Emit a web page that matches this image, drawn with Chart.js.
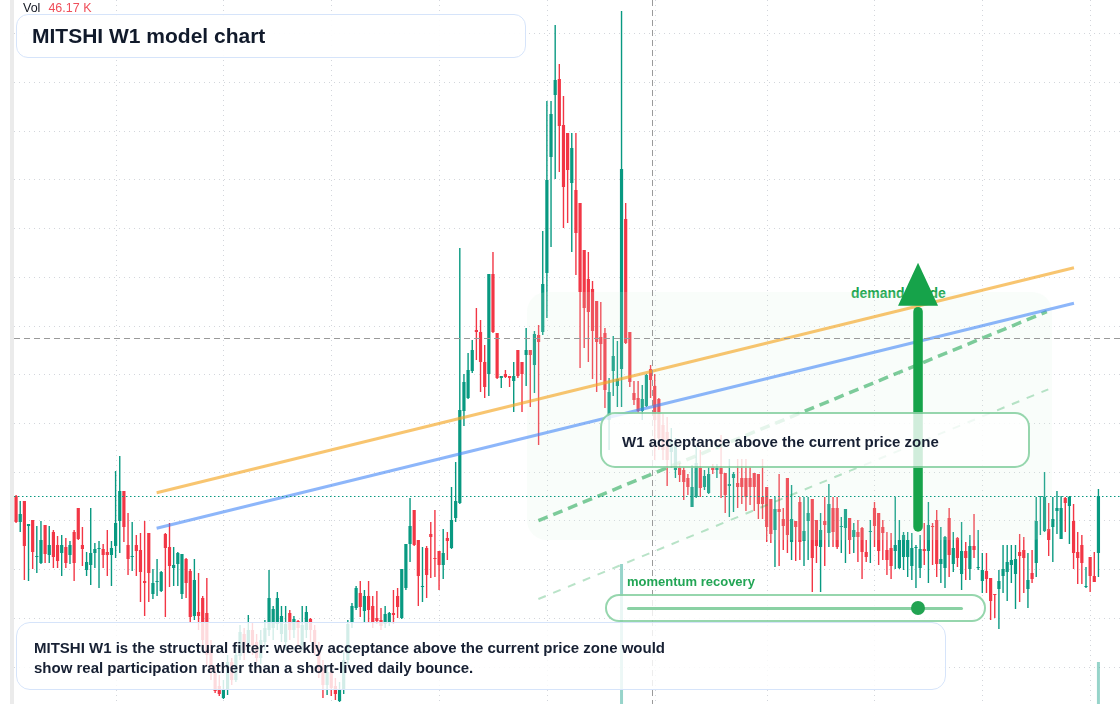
<!DOCTYPE html>
<html>
<head>
<meta charset="utf-8">
<title>MITSHI W1 model chart</title>
<script src="https://cdn.jsdelivr.net/npm/chart.js@4.4.1/dist/chart.umd.min.js"></script>
<style>
    html, body { margin: 0; padding: 0; background: #fff; }
    body { width: 1120px; height: 704px; position: relative; overflow: hidden;
           font-family: "Liberation Sans", Arial, Helvetica, sans-serif; }
    #chart { position: absolute; left: 0; top: 0; z-index: 1; }
    .strip { position: absolute; left: 10px; top: 0; width: 4px; height: 704px; background: #ebebeb; z-index: 1; }
    .box { position: absolute; box-sizing: border-box; z-index: 2; }
    .txt { position: absolute; white-space: nowrap; z-index: 3; }
    .title-box { left: 16px; top: 14px; width: 510px; height: 44px; border: 1.5px solid #d6e4fa;
                 border-radius: 12px; background: rgba(255,255,255,0.93); }
    .note-box { left: 16px; top: 622px; width: 930px; height: 68px; border: 1.5px solid #d6e4fa;
                border-radius: 14px; background: rgba(255,255,255,0.82); }
    .w1-box { left: 600px; top: 412px; width: 430px; height: 56px; border: 2px solid rgba(22,163,74,0.45);
              border-radius: 15px; background: rgba(255,255,255,0.8); }
    .slider-box { left: 605px; top: 594px; width: 381px; height: 28px; border: 2px solid rgba(22,163,74,0.45);
                  border-radius: 14px; background: rgba(255,255,255,0.8); }
    .track { position: absolute; left: 627px; top: 606.5px; width: 336px; height: 3px; border-radius: 2px;
             background: rgba(22,163,74,0.5); z-index: 3; }
    .knob { position: absolute; left: 911px; top: 601px; width: 14px; height: 14px; border-radius: 50%;
            background: #22a352; z-index: 4; }
</style>
</head>
<body>
<div class="strip"></div>
<!-- sits under the canvas so the arrow head covers it -->
<div class="txt" style="left:851px; top:284.6px; font-size:14px; line-height:16px; font-weight:bold; color:#16a34a; z-index:0;">demand guide</div>
<canvas id="chart" width="1120" height="704"></canvas>

<div class="txt" style="left:23px; top:1px; font-size:12.5px; line-height:14px; color:#131722;">Vol<span id="volValue" style="margin-left:8px; color:#ef4f5b;"></span></div>

<div class="box title-box"></div>
<div class="txt" style="left:32px; top:24px; font-size:21px; line-height:24px; font-weight:bold; color:#111a2b;">MITSHI W1 model chart</div>

<div class="box w1-box"></div>
<div class="txt" style="left:622px; top:432.4px; font-size:15px; line-height:20px; font-weight:bold; color:#172033;">W1 acceptance above the current price zone</div>

<div class="txt" style="left:627px; top:573.6px; font-size:13px; line-height:16px; font-weight:bold; color:rgb(34,165,85);">momentum recovery</div>
<div class="box slider-box"></div>
<div class="track"></div>
<div class="knob"></div>

<div class="box note-box"></div>
<div class="txt" style="left:34px; top:638.2px; font-size:15px; line-height:20px; font-weight:bold; color:#172033;">MITSHI W1 is the structural filter: weekly acceptance above the current price zone would<br>show real participation rather than a short-lived daily bounce.</div>

<script>
// ========== 行情数据 (weekly candles, oldest first) ==========
const openP = [
    204,178,199,174,180,143,137,175,145,168,155,147,153,145,168,192,155,130,135,147,
    151,151,148,145,154,179,209,155,143,155,150,119,167,106,118,109,166,153,132,136,
    106,141,129,84,88,102,87,50,27,14,2,10,38,20,44,66,50,70,58,42,
    58,70,72,76,66,58,87,70,79,55,70,81,70,50,32,15,28,14,-1,10,
    40,78,92,107,89,104,94,82,80,76,78,87,104,82,112,156,190,160,113,152,
    166,142,149,135,162,152,182,197,289,302,329,370,368,338,326,426,367,322,326,324,
    319,350,338,345,350,335,365,368,427,543,605,621,575,567,517,510,497,450,421,411,
    399,363,367,280,329,314,331,481,368,307,302,289,294,331,314,301,275,268,248,230,
    232,230,222,193,203,232,213,207,233,230,232,227,214,222,217,222,222,222,227,226,
    203,213,201,170,191,181,222,158,179,198,159,179,201,180,153,179,167,192,192,173,
    172,182,163,168,172,148,168,192,187,173,150,152,149,132,143,143,134,152,132,151,
    149,174,180,136,132,182,136,162,126,149,131,154,132,119,129,122,106,111,124,128,
    135,126,148,150,111,127,137,203,169,171,173,189,161,202,194,179,148,155,113,143,
    124,147
];
const highP = [
    205,199,199,176,180,174,179,175,174,170,164,165,162,159,170,192,173,148,192,157,
    159,156,170,159,229,244,209,187,178,165,167,179,167,131,141,129,167,177,153,148,
    146,142,131,141,127,104,122,60,35,25,20,45,42,52,75,72,85,78,66,70,
    80,130,94,108,94,94,90,84,80,94,94,82,75,58,40,35,32,22,18,48,
    80,97,114,119,110,119,104,109,92,94,88,110,112,131,156,202,190,160,153,154,
    178,190,149,171,168,213,238,452,326,347,360,392,380,355,426,448,367,324,330,324,
    338,350,338,372,350,369,375,469,599,599,675,636,604,567,567,567,497,450,448,419,
    399,398,372,322,364,359,689,497,368,319,319,315,326,335,326,302,286,283,272,262,
    237,233,226,235,253,250,230,233,236,236,265,227,241,228,241,241,241,233,227,226,
    241,213,201,203,226,192,222,215,179,203,203,203,201,180,187,203,216,203,203,183,
    191,182,177,180,173,160,180,198,187,180,168,167,203,180,168,168,167,155,165,177,
    198,177,190,173,164,192,168,163,178,158,165,186,170,147,147,122,106,130,155,155,
    155,155,166,163,147,150,203,204,228,197,203,209,204,203,204,196,168,165,133,143,
    148,211
];
const lowP = [
    177,168,120,119,131,127,136,137,137,132,132,124,132,136,119,160,134,124,115,132,
    112,132,124,114,142,147,158,125,129,124,98,84,98,101,104,108,83,113,114,114,
    101,102,78,80,70,52,35,20,7,4,1,5,15,18,40,40,48,45,38,36,
    50,64,60,70,58,50,60,62,55,50,62,58,45,22,2,5,4,0,-2,6,
    35,72,90,83,78,78,72,76,70,72,74,76,82,81,110,138,154,94,98,102,
    122,123,110,121,140,151,178,196,274,301,327,340,308,302,304,367,321,312,322,313,
    288,322,288,314,293,307,255,365,382,453,521,528,472,477,448,425,332,352,338,321,
    308,320,292,250,304,293,293,356,313,295,287,280,293,302,240,250,240,214,232,222,
    218,200,205,193,202,203,210,206,226,222,202,187,183,188,192,196,189,195,189,181,
    181,158,157,133,134,150,147,140,139,140,134,140,108,137,108,134,153,153,151,147,
    137,146,147,138,121,138,137,153,135,140,125,121,131,131,130,123,120,112,122,135,
    117,135,123,117,112,123,128,133,110,120,120,142,130,107,107,80,82,71,107,99,
    117,91,98,107,92,117,123,165,168,144,138,166,161,168,156,131,116,116,112,108,
    118,123
];
const closeP = [
    178,186,154,176,148,144,160,146,155,143,139,155,137,155,137,161,151,138,147,151,
    152,145,145,152,177,209,173,141,144,149,128,117,127,117,119,128,152,134,135,147,
    146,117,83,120,84,60,45,30,9,6,10,38,20,45,68,50,70,55,42,60,
    72,102,91,102,84,76,70,81,72,75,88,70,50,30,15,28,12,6,10,40,
    76,94,112,93,104,90,78,79,74,86,87,85,93,131,156,174,155,124,114,125,
    163,141,135,147,159,180,199,290,318,330,350,368,338,313,426,368,322,324,323,322,
    324,324,326,350,345,366,358,416,520,586,620,574,513,530,552,467,408,392,388,369,
    358,356,310,308,344,321,531,357,318,300,289,301,325,320,280,262,250,240,260,255,
    225,218,213,213,237,212,224,226,230,232,226,205,216,226,213,213,203,213,213,196,
    196,173,166,191,188,174,165,181,173,158,169,187,142,154,170,175,196,168,153,174,
    191,160,170,163,148,143,169,174,149,167,140,134,155,160,165,160,152,153,151,149,
    175,173,136,141,163,145,152,142,149,142,154,150,133,130,121,99,105,119,131,138,
    140,141,144,142,120,121,179,204,203,160,181,192,192,197,203,147,142,137,114,124,
    118,204
];

// volume (K) — only two bars are tall enough to show
const volIndex = [146, 261];
const volK = [153.9, 46.17];

// ========== 辅助线 (index, price) ==========
const upperTrendX = [33.9, 255.1];
const upperTrendY = [207.3, 432.3];
const lowerTrendX = [33.9, 255.1];
const lowerTrendY = [171.7, 396.7];
const guideX = [125.95, 248.55];
const guideY = [179.3, 388.3];
const guideLowX = [125.95, 248.9];
const guideLowY = [101, 310.7];

// demand zone, arrow, crosshair
const zoneX = [123.2, 249.8];
const zoneY = [160, 408];
const arrowX = 217.5;
const arrowY = [173, 394.3, 437.3];   // tail, head base, tip
const crossX = 153.26;
const crossY = 362;

// grid positions (unlabelled ticks)
const xGridTicks = [24, 50, 76, 102, 128, 154, 181, 207, 233, 259];
const yGridTicks = [667, 618, 569, 521, 472, 423, 374, 326, 277, 228, 180, 131, 82, 33];

const UP = '#089981';
const DOWN = '#f23645';

document.getElementById('volValue').textContent = volK[volK.length - 1].toFixed(2) + ' K';

// ========== 图表 ==========
function pts(xs, ys) {
    return xs.map((v, i) => ({ x: v, y: ys[i] }));
}

const candleColors = openP.map((o, i) => closeP[i] >= o ? UP : DOWN);
const bodies = openP.map((o, i) => ({ x: i, y: [Math.min(o, closeP[i]), Math.max(o, closeP[i])] }));
const wicks = openP.map((o, i) => ({ x: i, y: [lowP[i], highP[i]] }));

const overlayPlugin = {
    id: 'overlay',
    beforeDatasetsDraw(chart) {
        const { ctx, chartArea: a, scales: { x, y } } = chart;
        ctx.save();
        ctx.strokeStyle = '#d3d6dc';
        ctx.lineWidth = 1;
        ctx.setLineDash([1, 4]);
        xGridTicks.forEach(v => {
            const px = Math.round(x.getPixelForValue(v)) + 0.5;
            ctx.beginPath(); ctx.moveTo(px, 0); ctx.lineTo(px, chart.height); ctx.stroke();
        });
        yGridTicks.forEach(v => {
            const py = Math.round(y.getPixelForValue(v)) + 0.5;
            ctx.beginPath(); ctx.moveTo(a.left, py); ctx.lineTo(a.right, py); ctx.stroke();
        });
        ctx.restore();
    },
    afterDatasetDraw(chart, args) {
        // 需求区 — tints the candles under it
        if (chart.data.datasets[args.index].label !== 'candles') return;
        const { ctx, scales: { x, y } } = chart;
        const x0 = x.getPixelForValue(zoneX[0]), x1 = x.getPixelForValue(zoneX[1]);
        const y0 = y.getPixelForValue(zoneY[1]), y1 = y.getPixelForValue(zoneY[0]);
        ctx.save();
        ctx.fillStyle = 'rgba(215,242,222,0.16)';
        ctx.beginPath();
        ctx.roundRect(x0, y0, x1 - x0, y1 - y0, 20);
        ctx.fill();
        ctx.restore();
    },
    afterDatasetsDraw(chart) {
        const { ctx, chartArea: a, scales: { x, y } } = chart;
        ctx.save();
        // last price line
        const py = Math.round(y.getPixelForValue(closeP[closeP.length - 1])) + 0.5;
        ctx.strokeStyle = UP;
        ctx.lineWidth = 1;
        ctx.setLineDash([1.5, 2.5]);
        ctx.beginPath(); ctx.moveTo(a.left, py); ctx.lineTo(a.right, py); ctx.stroke();
        // crosshair
        ctx.strokeStyle = '#9a9a9a';
        ctx.setLineDash([6, 4]);
        const cx = Math.round(x.getPixelForValue(crossX)) + 0.5;
        const cy = Math.round(y.getPixelForValue(crossY)) + 0.5;
        ctx.beginPath(); ctx.moveTo(cx, 0); ctx.lineTo(cx, chart.height); ctx.stroke();
        ctx.beginPath(); ctx.moveTo(a.left, cy); ctx.lineTo(a.right, cy); ctx.stroke();
        ctx.restore();
    },
    afterDraw(chart) {
        // 上涨箭头
        const { ctx, scales: { x, y } } = chart;
        const ax = x.getPixelForValue(arrowX);
        const yTail = y.getPixelForValue(arrowY[0]);
        const yBase = y.getPixelForValue(arrowY[1]);
        const yTip = y.getPixelForValue(arrowY[2]);
        ctx.save();
        ctx.strokeStyle = '#16a34a';
        ctx.fillStyle = '#16a34a';
        ctx.lineWidth = 9.5;
        ctx.lineCap = 'round';
        ctx.beginPath(); ctx.moveTo(ax, yTail); ctx.lineTo(ax, yBase + 6); ctx.stroke();
        ctx.beginPath();
        ctx.moveTo(ax - 20, yBase); ctx.lineTo(ax + 20, yBase); ctx.lineTo(ax, yTip);
        ctx.closePath(); ctx.fill();
        ctx.restore();
    }
};

new Chart(document.getElementById('chart').getContext('2d'), {
    type: 'bar',
    data: {
        datasets: [
            {
                type: 'line', label: 'upper trend', data: pts(upperTrendX, upperTrendY),
                borderColor: 'rgba(245,166,35,0.65)', borderWidth: 3, pointRadius: 0, order: 0
            },
            {
                type: 'line', label: 'lower trend', data: pts(lowerTrendX, lowerTrendY),
                borderColor: 'rgba(59,130,246,0.58)', borderWidth: 3, pointRadius: 0, order: 1
            },
            {
                type: 'line', label: 'guide', data: pts(guideX, guideY),
                borderColor: 'rgba(22,163,74,0.55)', borderWidth: 3.5, borderDash: [10, 6],
                pointRadius: 0, order: 2
            },
            {
                type: 'line', label: 'guide low', data: pts(guideLowX, guideLowY),
                borderColor: 'rgba(22,163,74,0.3)', borderWidth: 2, borderDash: [8, 8],
                pointRadius: 0, order: 2
            },
            {
                label: 'candles', data: bodies, backgroundColor: candleColors,
                barThickness: 3.2, grouped: false, borderWidth: 0, inflateAmount: 0, order: 3
            },
            {
                label: 'wicks', data: wicks, backgroundColor: candleColors,
                barThickness: 1.4, grouped: false, borderWidth: 0, inflateAmount: 0, order: 4
            },
            {
                label: 'volume', data: pts(volIndex, volK), yAxisID: 'yv',
                backgroundColor: 'rgba(8,153,129,0.42)', barThickness: 3, grouped: false,
                borderWidth: 0, inflateAmount: 0, order: 5
            }
        ]
    },
    options: {
        responsive: false,
        animation: false,
        events: [],
        layout: { padding: { left: 14, right: 0, top: 0, bottom: 0 } },
        plugins: { legend: { display: false }, tooltip: { enabled: false } },
        scales: {
            x: { type: 'linear', min: -0.5, max: 266.2, offset: false, display: false },
            y: { type: 'linear', min: -4, max: 700, display: false },
            yv: { type: 'linear', min: 0, max: 774, display: false }
        }
    },
    plugins: [overlayPlugin]
});
</script>
</body>
</html>
